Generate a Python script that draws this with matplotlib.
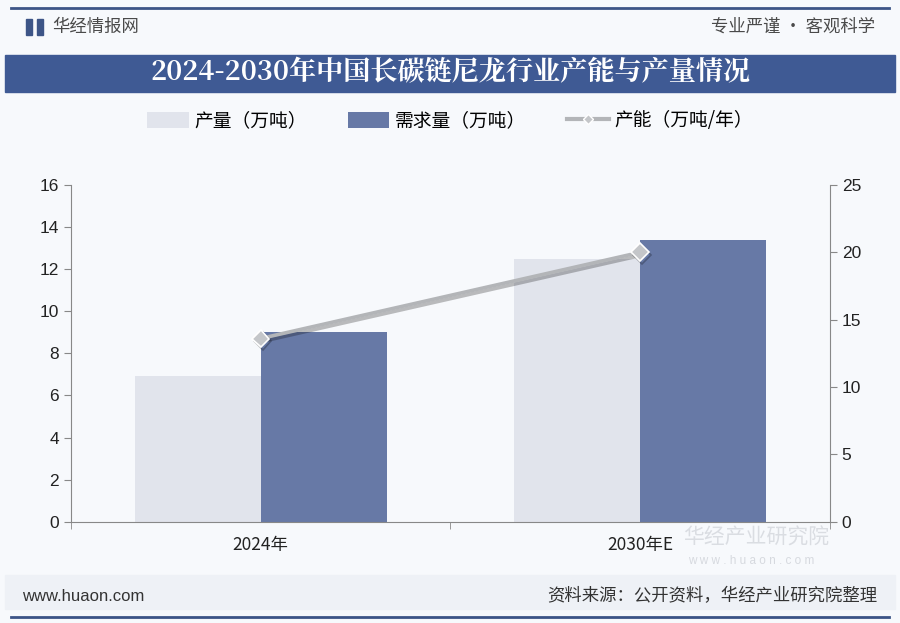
import matplotlib
matplotlib.use('Agg')
import matplotlib.pyplot as plt
import matplotlib.patheffects as pe
from matplotlib.patches import Rectangle
import numpy as np

plt.rcParams['font.family'] = ['Noto Sans CJK SC', 'DejaVu Sans']

years = ['2024年', '2030年E']
output = [6.9, 12.5]      # 产量（万吨）
demand = [9.0, 13.4]      # 需求量（万吨）
capacity = [13.6, 20.0]   # 产能（万吨/年）

fig = plt.figure(figsize=(9, 6.23), dpi=100)
fig.patch.set_facecolor('#f7f9fc')

# header / footer decoration
fig.add_artist(plt.Line2D([0.012, 0.988], [0.987, 0.987], color='#3d5587', lw=2))
fig.add_artist(plt.Line2D([0.012, 0.988], [0.01, 0.01], color='#3d5587', lw=2))
fig.add_artist(Rectangle((0.006, 0.853), 0.988, 0.059, color='#3f5a94'))
fig.text(0.5, 0.883, '2024-2030年中国长碳链尼龙行业产能与产量情况', ha='center', va='center',
         color='white', fontsize=19.5, fontweight='bold', family=['Noto Serif CJK SC', 'Noto Sans CJK SC'])
fig.add_artist(Rectangle((0.029, 0.944), 0.007, 0.025, color='#3d5587'))
fig.add_artist(Rectangle((0.041, 0.944), 0.007, 0.025, color='#3d5587'))
fig.text(0.058, 0.957, '华经情报网', ha='left', va='center', color='#4a4a4a', fontsize=12.5)
fig.text(0.972, 0.957, '专业严谨 • 客观科学', ha='right', va='center', color='#4a4a4a', fontsize=12.5)
fig.add_artist(Rectangle((0.006, 0.022), 0.988, 0.055, color='#eef1f6'))
fig.text(0.024, 0.043, 'www.huaon.com', ha='left', va='center', color='#333333', fontsize=12,
         family='Liberation Sans')
fig.text(0.975, 0.043, '资料来源：公开资料，华经产业研究院整理', ha='right', va='center',
         color='#333333', fontsize=12.5)

# watermark
fig.text(0.759, 0.128, '华经产业研究院', color='#d3d6dc', fontsize=15, alpha=0.8)
fig.text(0.765, 0.094, 'w w w . h u a o n . c o m', color='#d3d6dc', fontsize=8.5, alpha=0.9,
         family='Liberation Sans')

ax = fig.add_axes([0.0786, 0.1626, 0.8436, 0.5405])
ax.set_facecolor('none')
x = np.arange(len(years))
w = 0.332
b1 = ax.bar(x - w / 2, output, w, color='#e1e4ec', label='产量（万吨）', zorder=2)
b2 = ax.bar(x + w / 2, demand, w, color='#6779a6', label='需求量（万吨）', zorder=2)
ax.set_xlim(-0.5, 1.5)
ax.set_ylim(0, 16)
ax.set_yticks(np.arange(0, 17, 2))
ax.set_xticks(x)
ax.set_xticklabels(years, fontsize=12.5, color='#222222')
ax.set_xticks([-0.5, 0.5, 1.5], minor=True)
ax.tick_params(axis='x', which='major', length=0, pad=10)
ax.tick_params(axis='x', which='minor', length=5, color='#888888')
ax.tick_params(axis='y', length=5, color='#888888', labelsize=12.5, labelcolor='#222222')
for lbl in ax.get_yticklabels():
    lbl.set_family('Liberation Sans')
for s in ['top', 'right']:
    ax.spines[s].set_visible(False)
for s in ['left', 'bottom']:
    ax.spines[s].set_color('#888888')

ax2 = ax.twinx()
ln, = ax2.plot(x, capacity, color='#b3b5b8', lw=2.6, marker='D', markersize=9,
               markerfacecolor='#c4c6c9', markeredgecolor='white', markeredgewidth=1.2,
               label='产能（万吨/年）', zorder=5,
               path_effects=[pe.SimpleLineShadow(offset=(1.5, -2), alpha=0.25), pe.Normal()])
ax2.set_ylim(0, 25)
ax2.set_yticks(np.arange(0, 26, 5))
ax2.tick_params(axis='y', length=5, color='#888888', labelsize=12.5, labelcolor='#222222')
for lbl in ax2.get_yticklabels():
    lbl.set_family('Liberation Sans')
for s in ['top', 'left', 'bottom']:
    ax2.spines[s].set_visible(False)
ax2.spines['right'].set_color('#888888')

leg_line = plt.Line2D([], [], color='#b3b5b8', lw=3, marker='D', markersize=5,
                      markerfacecolor='#c4c6c9', markeredgecolor='white')
fig.legend([b1, b2, leg_line], ['产量（万吨）', '需求量（万吨）', '产能（万吨/年）'],
           loc='center', bbox_to_anchor=(0.5, 0.806), ncol=3, frameon=False,
           fontsize=13.5, handlelength=2.2, handleheight=1.0, columnspacing=2.2,
           handletextpad=0.3)

fig.savefig('out.png', dpi=100, facecolor=fig.get_facecolor())
